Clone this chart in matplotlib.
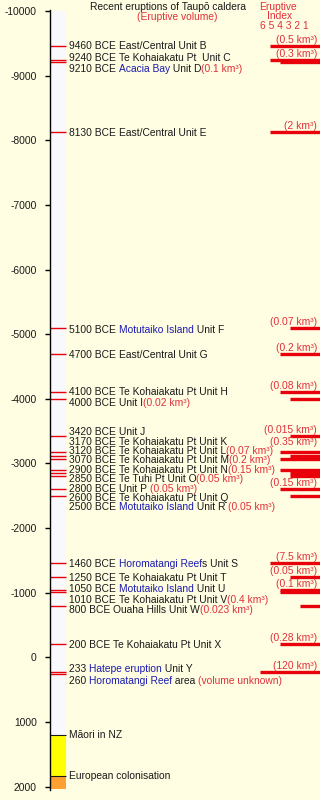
import re

import matplotlib
matplotlib.use("Agg")
import matplotlib.pyplot as plt

plt.rcParams["font.family"] = ["Liberation Sans", "DejaVu Sans"]
plt.rcParams["axes.unicode_minus"] = False

# eruptions, year (negative = BCE)
years = [-9460, -9240, -9210, -8130, -5100, -4700, -4100, -4000, -3420, -3170,
         -3120, -3070, -2900, -2850, -2800, -2600, -2500, -1460, -1250, -1050,
         -1010, -800, -200, 233, 260]
dates = ["9460 BCE", "9240 BCE", "9210 BCE", "8130 BCE", "5100 BCE", "4700 BCE",
         "4100 BCE", "4000 BCE", "3420 BCE", "3170 BCE", "3120 BCE", "3070 BCE",
         "2900 BCE", "2850 BCE", "2800 BCE", "2600 BCE", "2500 BCE", "1460 BCE",
         "1250 BCE", "1050 BCE", "1010 BCE", "800 BCE", "200 BCE", "233", "260"]
# {...} = linked place name (blue)
names = ["East/Central Unit B", "Te Kohaiakatu Pt  Unit C", "{Acacia Bay} Unit D",
         "East/Central Unit E", "{Motutaiko Island} Unit F", "East/Central Unit G",
         "Te Kohaiakatu Pt Unit H", "Unit I", "Unit J", "Te Kohaiakatu Pt Unit K",
         "Te Kohaiakatu Pt Unit L", "Te Kohaiakatu Pt Unit M", "Te Kohaiakatu Pt Unit N",
         "Te Tuhi Pt Unit O", "Unit P ", "Te Kohaiakatu Pt Unit Q",
         "{Motutaiko Island} Unit R ", "{Horomatangi Reef}s Unit S",
         "Te Kohaiakatu Pt Unit T", "{Motutaiko Island} Unit U",
         "Te Kohaiakatu Pt Unit V", "Ouaha Hills Unit W", "Te Kohaiakatu Pt Unit X",
         "{Hatepe eruption} Unit Y", "{Horomatangi Reef} area "]
volumes = ["0.5", "0.3", "0.1", "2", "0.07", "0.2", "0.08", "0.02", "0.015", "0.35",
           "0.07", "0.2", "0.15", "0.05", "0.05", "0.15", "0.05", "7.5", "0.05", "0.1",
           "0.4", "0.023", "0.28", "120", None]
volume_inline = [False, False, True, False, False, False, False, True, False, False,
                 True, True, True, True, True, False, True, False, False, False,
                 True, True, False, False, True]
eruptive_index = [5, 5, 4, 5, 3, 4, 4, 3, 3, 4, 3, 4, 4, 3, 3, 4, 3, 5, 3, 4, 4, 2, 4, 6, None]

era_names = ["", "Māori in NZ", "European colonisation"]
era_start = [-10000, 1200, 1840]
era_end = [1200, 1840, 2040]

# layout: vertical nudge of the left labels (pixels, + = down)
label_nudge = [0, -2, 7, 1, 2, 1, 0, 4, -4, -10.5, -5, 1, 0, 6, 12.6, 8.7, 11,
               1, 1, -1, 7.4, 4, 1, -3.5, 6.7]

BG = "#fffde2"
RED = "#e8000b"
TXT_RED = "#e0303a"
BLUE = "#1c1cb0"
BLACK = "#1a1a1a"
era_colors = ["#f9f9fd", "#ffff00", "#ffa033"]
PT = 0.72  # points per pixel at 100 dpi
FS = 7.4

fig = plt.figure(figsize=(3.2, 8), dpi=100, facecolor=BG)
ax = fig.add_axes([50 / 320, 0, 270 / 320, 1])
ax.patch.set_visible(False)
ax.set_xlim(50, 320)
ax.set_ylim(2206, -10170)
for side in ("top", "right", "bottom"):
    ax.spines[side].set_visible(False)
ax.spines["left"].set_bounds(-10015, 2045)
ax.spines["left"].set_linewidth(1.0)
ax.set_xticks([])
ticks = list(range(-10000, 2001, 1000))
ax.set_yticks(ticks)
ax.set_yticklabels([str(t) for t in ticks])
ax.tick_params(axis="y", direction="out", length=3.6, width=1.0, pad=6.0,
               labelsize=FS, labelcolor=BLACK)

# eras column
for name, s, e, c in zip(era_names, era_start, era_end, era_colors):
    ax.fill_betweenx([s, e], 50.5, 66, color=c, lw=0, zorder=1)
    if name:
        ax.hlines(s, 50, 66, color=BLACK, lw=0.8, zorder=2)
        ax.text(69, s, name, fontsize=FS, color=BLACK, va="center", ha="left")

# event marks on the time axis
ax.hlines(years, 50, 66, color=RED, lw=1.0, zorder=2)


def chained_text(x, y, dy_px, parts):
    t = ax.annotate(parts[0][0], xy=(x, y), xytext=(0, -dy_px * PT),
                    textcoords="offset points", fontsize=FS, color=parts[0][1],
                    va="center", ha="left")
    for s, c in parts[1:]:
        if not s:
            continue
        t = ax.annotate(s, xy=(1, 0), xycoords=t, fontsize=FS, color=c,
                        va="bottom", ha="left")


for i, y in enumerate(years):
    parts = [(dates[i] + " ", BLACK)]
    for piece in re.split(r"(\{[^}]*\})", names[i]):
        if piece.startswith("{"):
            parts.append((piece[1:-1], BLUE))
        elif piece:
            parts.append((piece, BLACK))
    if volume_inline[i]:
        vol = f"({volumes[i]} km³)" if volumes[i] else "(volume unknown)"
        parts.append((vol, TXT_RED))
    chained_text(69, y, label_nudge[i], parts)

    idx = eruptive_index[i]
    if idx:
        ax.hlines(y, 320 - 10 * idx, 321, color=RED, lw=2.4, zorder=3)
    if volumes[i] and not volume_inline[i]:
        dy = 10 if years[i] == -3170 else 6
        ax.annotate(f"({volumes[i]} km³)", xy=(317, y), xytext=(0, dy * PT),
                    textcoords="offset points", fontsize=FS, color=TXT_RED,
                    va="center", ha="right", zorder=4)

# headers
fig.text(168 / 320, 1 - 7 / 800, "Recent eruptions of Taupō caldera", fontsize=FS,
         color=BLACK, ha="center", va="center")
fig.text(177 / 320, 1 - 17 / 800, "(Eruptive volume)", fontsize=FS, color=TXT_RED,
         ha="center", va="center")
fig.text(278 / 320, 1 - 7 / 800, "Eruptive", fontsize=FS, color=TXT_RED,
         ha="center", va="center")
fig.text(280 / 320, 1 - 16 / 800, "Index", fontsize=FS, color=TXT_RED,
         ha="center", va="center")
fig.text(284 / 320, 1 - 26 / 800, "6 5 4 3 2 1", fontsize=FS, color=TXT_RED,
         ha="center", va="center")

fig.savefig("out.png", dpi=100, facecolor=BG)
